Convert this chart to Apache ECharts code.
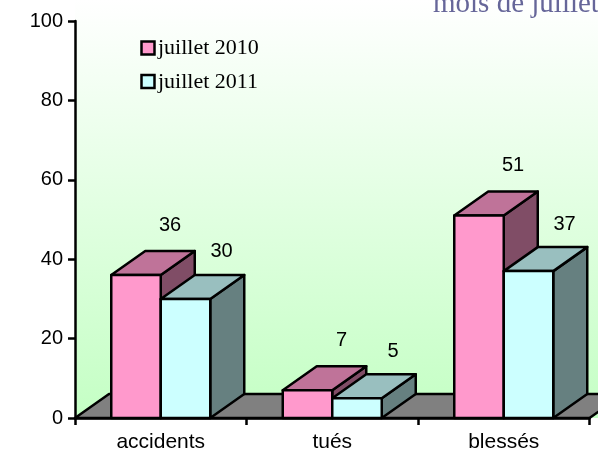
<!DOCTYPE html>
<html lang="fr">
<head>
    <meta charset="UTF-8">
    <title>juillet 2010 / juillet 2011</title>
    <style>
        body { margin: 0; padding: 0; background: #fff; overflow: hidden; }
        #chart { width: 598px; height: 455px; }
    </style>
    <script src="https://cdn.jsdelivr.net/npm/echarts@6/dist/echarts.min.js"></script>
</head>
<body>
    <div id="chart"></div>
    <script>
        var categories = ['accidents', 'tués', 'blessés'];
        var juillet2010 = [36, 7, 51];
        var juillet2011 = [30, 5, 37];
        var yTicks = [0, 20, 40, 60, 80, 100];

        // depth of the fake 3D, in pixels
        var DX = 34, DY = -24;
        var BAR_W = 49.5;
        var LINE = 2.5;
        var SANS = '"Liberation Sans", Arial, sans-serif';
        var SERIF = '"Liberation Serif", serif';

        function poly(points, fill) {
            return {
                type: 'polygon',
                shape: { points: points },
                style: { fill: fill, stroke: '#000', lineWidth: LINE, lineJoin: 'round' }
            };
        }

        function bar3d(front, top, side, labelDx, labelDy, offset) {
            return function (params, api) {
                var base = api.coord([api.value(0), 0]);
                var head = api.coord([api.value(0), api.value(1)]);
                var x0 = base[0] + offset * BAR_W;
                var x1 = x0 + BAR_W;
                var y0 = base[1];
                var y1 = head[1];
                return {
                    type: 'group',
                    children: [
                        poly([[x1, y0], [x1 + DX, y0 + DY], [x1 + DX, y1 + DY], [x1, y1]], side),
                        poly([[x0, y1], [x0 + DX, y1 + DY], [x1 + DX, y1 + DY], [x1, y1]], top),
                        poly([[x0, y0], [x1, y0], [x1, y1], [x0, y1]], front),
                        {
                            type: 'text',
                            style: {
                                text: String(api.value(1)),
                                x: x0 + BAR_W / 2 + labelDx,
                                y: y1 + DY + labelDy,
                                fill: '#000',
                                font: '20px ' + SANS,
                                align: 'center',
                                verticalAlign: 'middle'
                            }
                        }
                    ]
                };
            };
        }

        // wall gradient and grey floor, sized from the grid
        function backdrop(params, api) {
            var c = params.coordSys;
            var bottom = c.y + c.height;
            var right = c.x + c.width;
            return {
                type: 'group',
                children: [
                    {
                        type: 'rect',
                        shape: { x: c.x, y: 0, width: right + DX - c.x, height: bottom },
                        style: {
                            fill: new echarts.graphic.LinearGradient(0, 0, 0, 1, [
                                { offset: 0, color: '#ffffff' },
                                { offset: 1, color: '#c4ffc4' }
                            ])
                        }
                    },
                    {
                        type: 'polygon',
                        shape: { points: [[c.x, bottom], [c.x + DX, bottom + DY], [right + DX, bottom + DY], [right, bottom]] },
                        style: { fill: '#808080', stroke: '#000', lineWidth: LINE, lineJoin: 'round' }
                    }
                ]
            };
        }

        var chart = echarts.init(document.getElementById('chart'), null, { renderer: 'canvas' });
        chart.setOption({
            animation: false,
            backgroundColor: '#fff',
            grid: { left: 75, top: 21, width: 514.5, height: 397, containLabel: false },
            legend: { show: false },
            xAxis: {
                type: 'category',
                data: categories,
                z: 10,
                axisLine: { onZero: false, lineStyle: { color: '#000', width: LINE } },
                axisTick: { show: true, length: 7, lineStyle: { color: '#000', width: LINE } },
                axisLabel: {
                    color: '#000',
                    fontFamily: SANS,
                    fontSize: 21,
                    margin: 14,
                    interval: 0
                }
            },
            yAxis: {
                type: 'value',
                min: yTicks[0],
                max: yTicks[yTicks.length - 1],
                interval: 20,
                z: 10,
                splitLine: { show: false },
                axisLine: { show: true, lineStyle: { color: '#000', width: LINE } },
                axisTick: { show: true, length: 7, lineStyle: { color: '#000', width: LINE } },
                axisLabel: {
                    color: '#000',
                    fontFamily: SANS,
                    fontSize: 20,
                    margin: 12
                }
            },
            graphic: [
                {
                    type: 'text',
                    x: 433,
                    y: 4,
                    z: 20,
                    style: { text: 'mois de juillet', fill: '#666699', font: '29px ' + SERIF, verticalAlign: 'middle' }
                },
                { type: 'rect', z: 20, shape: { x: 141.5, y: 41.5, width: 13, height: 13 }, style: { fill: '#ff99cc', stroke: '#000', lineWidth: LINE } },
                { type: 'rect', z: 20, shape: { x: 141.5, y: 75, width: 13, height: 13 }, style: { fill: '#ccffff', stroke: '#000', lineWidth: LINE } },
                { type: 'text', x: 158, y: 48, z: 20, style: { text: 'juillet 2010', fill: '#000', font: '22px ' + SERIF, verticalAlign: 'middle' } },
                { type: 'text', x: 158, y: 82, z: 20, style: { text: 'juillet 2011', fill: '#000', font: '22px ' + SERIF, verticalAlign: 'middle' } }
            ],
            series: [
                {
                    type: 'custom',
                    z: 1,
                    silent: true,
                    clip: false,
                    renderItem: backdrop,
                    data: [[0, 0]]
                },
                {
                    name: 'juillet 2010',
                    type: 'custom',
                    z: 3,
                    clip: false,
                    renderItem: bar3d('#ff99cc', '#bf7399', '#804d66', 34, -26, -1),
                    encode: { x: 0, y: 1 },
                    data: juillet2010.map(function (v, i) { return [i, v]; })
                },
                {
                    name: 'juillet 2011',
                    type: 'custom',
                    z: 4,
                    clip: false,
                    renderItem: bar3d('#ccffff', '#99bfbf', '#668080', 36, -23, 0),
                    encode: { x: 0, y: 1 },
                    data: juillet2011.map(function (v, i) { return [i, v]; })
                }
            ]
        });
    </script>
</body>
</html>
